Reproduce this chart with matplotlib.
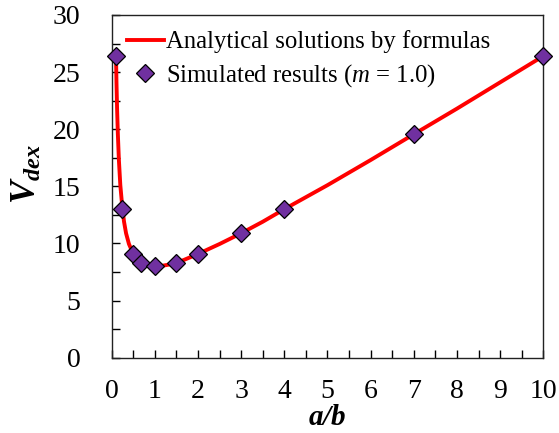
import matplotlib
matplotlib.use("Agg")
import matplotlib.pyplot as plt
from matplotlib.ticker import MultipleLocator

plt.rcParams['font.family'] = ['Liberation Serif', 'DejaVu Serif']
plt.rcParams['mathtext.fontset'] = 'custom'
plt.rcParams['mathtext.rm'] = 'Liberation Serif'
plt.rcParams['mathtext.it'] = 'Liberation Serif:italic'
plt.rcParams['mathtext.bf'] = 'Liberation Serif:bold'
plt.rcParams['mathtext.bfit'] = 'Liberation Serif:bold:italic'

# Analytical curve
curve_x = [0.1, 0.111, 0.125, 0.143, 0.167, 0.2, 0.25, 0.286, 0.333, 0.4, 0.5, 0.6, 0.667, 0.75, 0.85, 1.0,
           1.18, 1.33, 1.5, 1.67, 2.0, 2.5, 3.0, 3.5, 4.0, 5.0, 6.0, 7.0, 8.0, 9.0, 10.0]
curve_y = [26.4, 24.1, 21.8, 19.56, 17.3, 15.1, 13.0, 11.9, 10.89, 9.95, 9.08, 8.55, 8.32, 8.15, 8.05, 8.0,
           8.05, 8.15, 8.32, 8.55, 9.08, 9.95, 10.89, 11.9, 13.0, 15.1, 17.3, 19.56, 21.8, 24.1, 26.4]

# Simulated results
sim_x = [0.1, 0.25, 0.5, 0.67, 1.0, 1.5, 2.0, 3.0, 4.0, 7.0, 10.0]
sim_y = [26.4, 13.0, 9.08, 8.3, 8.03, 8.32, 9.08, 10.9, 13.0, 19.56, 26.4]

fig = plt.figure(figsize=(5.59, 4.33), dpi=100)
ax = fig.add_axes([0.1998, 0.174, 0.772, 0.7914])

ax.plot(curve_x, curve_y, color='#FF0000', lw=2.8, label='Analytical solutions by formulas', zorder=2)
ax.plot(sim_x, sim_y, linestyle='none', marker='D', ms=8.8, mfc='#7030A0', mec='black', mew=0.9,
        label='Simulated results ($m$ = 1.0)', zorder=3, clip_on=False)

ax.set_xlim(0, 10)
ax.set_ylim(0, 30)
ax.xaxis.set_major_locator(MultipleLocator(1))
ax.xaxis.set_minor_locator(MultipleLocator(0.5))
ax.yaxis.set_major_locator(MultipleLocator(5))
ax.yaxis.set_minor_locator(MultipleLocator(2.5))
ax.tick_params(which='both', direction='in', length=6, width=1, labelsize=20,
               top=False, right=False, colors='black')
ax.tick_params(axis='x', which='both', pad=15.5)
ax.tick_params(axis='y', which='both', pad=22.5)
for s in ax.spines.values():
    s.set_linewidth(1.0)
    s.set_color('#222222')

ax.set_xlabel(r'$\mathbfit{a/b}$', fontsize=21)
ax.xaxis.set_label_coords(0.5, -0.138)
ax.set_ylabel(r'$\mathbfit{V_{dex}}$', fontsize=25)
ax.yaxis.set_label_coords(-0.157, 0.536)

ax.legend(loc='upper left', bbox_to_anchor=(0.0, 0.998), frameon=False, fontsize=17.8,
          handlelength=1.5, handletextpad=0.1, labelspacing=0.35, borderaxespad=0.2, numpoints=1)

fig.savefig('out.png', dpi=100)
